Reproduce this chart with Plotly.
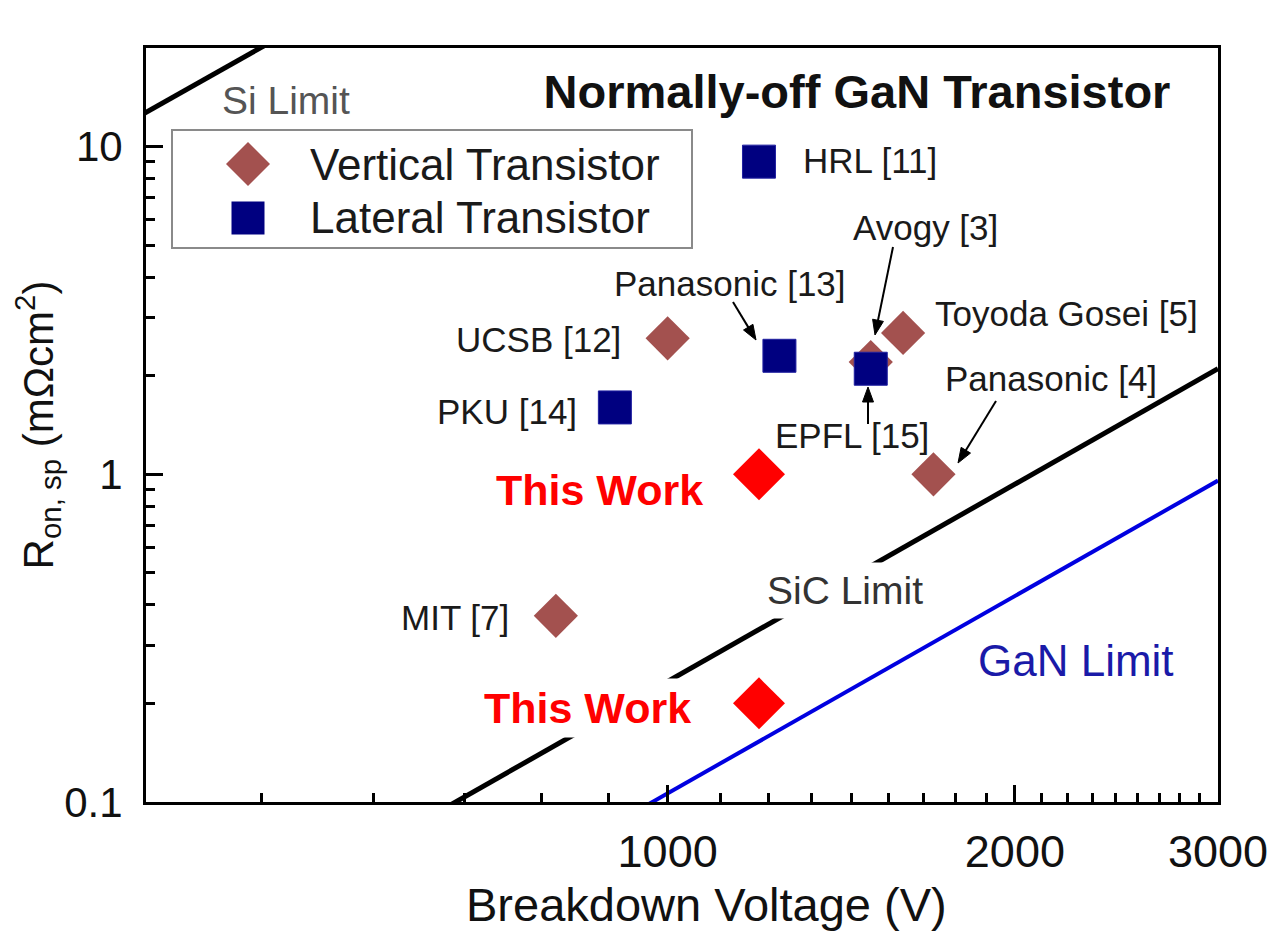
import math
import plotly.graph_objects as go

# ---------------- data ----------------
vert_names = ["UCSB [12]", "Avogy [3]", "Toyoda Gosei [5]", "Panasonic [4]", "MIT [7]"]
vert_v = [1000, 1500, 1600, 1700, 800]
vert_r = [2.6, 2.2, 2.7, 1.0, 0.37]

lat_names = ["HRL [11]", "Panasonic [13]", "EPFL [15]", "PKU [14]"]
lat_v = [1200, 1250, 1500, 900]
lat_r = [9.0, 2.3, 2.1, 1.6]

this_v = [1200, 1200]
this_r = [1.0, 0.2]

si_v = [350, 450]
si_r = [12.5, 20.6]
sic_v = [640, 3000]
sic_r = [0.0955, 2.1]
gan_v = [950, 3000]
gan_r = [0.0959, 0.957]

x_tickvals = [1000, 2000, 3000]
x_ticktext = ["1000", "2000", "3000"]
y_tickvals = [0.1, 1, 10]
y_ticktext = ["0.1", "1", "10"]

# ---------------- styling / layout ----------------
FONT = "Liberation Sans, Arial, sans-serif"
BROWN = "#A3514F"
NAVY = "#000080"
RED = "#FF0000"
BLUE = "#0000E0"
TXT = "#1a1a1a"

W, H = 1280, 952
OFF = 8  # page body margin in the browser
# plot-area edges in screen pixels
L, R, T, B = 146, 1218, 48, 802


def px(x):
    return (x - L) / (R - L)


def py(y):
    return (B - y) / (B - T)


x_minor = [k * 1000 / 9 for k in range(4, 27) if k % 9 != 0]
y_minor = [m * 0.1 for m in range(2, 10)] + [float(m) for m in range(2, 10)]

fig = go.Figure()

fig.add_trace(go.Scatter(x=si_v, y=si_r, mode="lines", line=dict(color="black", width=5),
                         name="Si Limit", hoverinfo="skip"))
fig.add_trace(go.Scatter(x=sic_v, y=sic_r, mode="lines", line=dict(color="black", width=5),
                         name="SiC Limit", hoverinfo="skip"))
fig.add_trace(go.Scatter(x=gan_v, y=gan_r, mode="lines", line=dict(color=BLUE, width=4),
                         name="GaN Limit", hoverinfo="skip"))

fig.add_trace(go.Scatter(x=vert_v, y=vert_r, mode="markers", text=vert_names,
                         name="Vertical Transistor",
                         marker=dict(symbol="diamond", size=34, color=BROWN, line=dict(width=0))))
fig.add_trace(go.Scatter(x=lat_v, y=lat_r, mode="markers", text=lat_names,
                         name="Lateral Transistor",
                         marker=dict(symbol="square", size=33, color=NAVY,
                                     line=dict(width=1, color="#2020a0"))))
fig.add_trace(go.Scatter(x=this_v, y=this_r, mode="markers", name="This Work",
                         marker=dict(symbol="diamond", size=40, color=RED, line=dict(width=0))))

annotations = []
shapes = []


def label(text, cx, cy, size=35, color=TXT, bold=False, bg=None, pad=0, xanchor="center"):
    t = f"<b>{text}</b>" if bold else text
    d = dict(text=t, x=px(cx), y=py(cy), xref="paper", yref="paper", showarrow=False,
             xanchor=xanchor, yanchor="middle", font=dict(family=FONT, size=size, color=color))
    if bg:
        d.update(bgcolor=bg, borderpad=pad)
    annotations.append(d)


def arrow(tx, ty, hx, hy, head_len=15, head_half=5.5):
    """Arrow from tail (tx,ty) to head (hx,hy), screen pixels, drawn as shapes."""
    dx, dy = hx - tx, hy - ty
    n = math.hypot(dx, dy)
    ux, uy = dx / n, dy / n
    bx, by = hx - ux * head_len, hy - uy * head_len
    pxn, pyn = -uy, ux
    shapes.append(dict(type="line", xref="paper", yref="paper",
                       x0=px(tx), y0=py(ty), x1=px(bx + ux * 2), y1=py(by + uy * 2),
                       line=dict(color="black", width=2), layer="above"))
    p1 = (bx + pxn * head_half, by + pyn * head_half)
    p2 = (bx - pxn * head_half, by - pyn * head_half)
    path = (f"M {px(hx)},{py(hy)} L {px(p1[0])},{py(p1[1])} "
            f"L {px(p2[0])},{py(p2[1])} Z")
    shapes.append(dict(type="path", xref="paper", yref="paper", path=path,
                       fillcolor="black", line=dict(color="black", width=1), layer="above"))


def key_symbol(kind, cx, cy, color, half):
    if kind == "diamond":
        path = (f"M {px(cx)},{py(cy - half)} L {px(cx + half)},{py(cy)} "
                f"L {px(cx)},{py(cy + half)} L {px(cx - half)},{py(cy)} Z")
        shapes.append(dict(type="path", xref="paper", yref="paper", path=path,
                           fillcolor=color, line=dict(width=0), layer="above"))
    else:
        shapes.append(dict(type="rect", xref="paper", yref="paper",
                           x0=px(cx - half), x1=px(cx + half), y0=py(cy + half), y1=py(cy - half),
                           fillcolor=color, line=dict(width=0), layer="above"))


# limit labels
label("Si Limit", 286, 100, size=39, color="#555555")
label("SiC Limit", 845, 590, size=39, color="#333333", bg="white", pad=6)
label("GaN Limit", 1076, 660, size=44, color="#1a1aa8")

# point labels
vert_label_pos = [(538, 339), (925, 227), (1066, 313), (1051, 378), (455, 617)]
lat_label_pos = [(870, 160), (730, 283), (852, 435), (507, 411)]
for name, (cx, cy) in zip(vert_names, vert_label_pos):
    label(name, cx, cy)
for name, (cx, cy) in zip(lat_names, lat_label_pos):
    label(name, cx, cy)
label("This Work", 599, 490, size=43, color=RED, bold=True)
label("This Work", 587, 708, size=43, color=RED, bold=True, bg="white", pad=5)

# arrows (tail -> head)
arrow(733, 302, 756, 340)   # Panasonic [13]
arrow(893, 247, 875, 335)   # Avogy [3]
arrow(868, 424, 868, 387)   # EPFL [15]
arrow(996, 401, 958, 463)   # Panasonic [4]

# legend (box, symbols, texts)
shapes.append(dict(type="rect", xref="paper", yref="paper", x0=px(172), x1=px(692),
                   y0=py(248), y1=py(130), line=dict(color="#8a8a8a", width=2), layer="below"))
key_symbol("diamond", 248, 164, BROWN, 22)
key_symbol("square", 248, 218, NAVY, 16.5)
label("Vertical Transistor", 308, 164, size=44, color=TXT, xanchor="left")
label("Lateral Transistor", 308, 218, size=44, color=TXT, xanchor="left")

# x axis title (placed to match the reference's offset)
label("Breakdown Voltage (V)", 706, 904, size=47, color="#111")

axis_common = dict(showline=True, linecolor="black", linewidth=3, mirror=True,
                   ticks="inside", ticklen=17, tickwidth=3, tickcolor="black",
                   showgrid=False, zeroline=False)

fig.update_layout(
    width=W, height=H,
    margin=dict(l=L - OFF, r=W - (R - OFF), t=T - OFF, b=H - (B - OFF)),
    plot_bgcolor="white", paper_bgcolor="white",
    showlegend=False,
    font=dict(family=FONT, color=TXT),
    title=dict(text="<b>Normally-off GaN Transistor</b>", xref="paper", yref="paper",
               x=px(857), y=py(92), xanchor="center", yanchor="middle",
               font=dict(family=FONT, size=47, color="#111")),
    xaxis=dict(type="log", range=[math.log10(353), math.log10(3000)],
               tickmode="array", tickvals=x_tickvals, ticktext=x_ticktext,
               tickfont=dict(size=45, color="#111"), ticklabelstandoff=8,
               minor=dict(tickmode="array", tickvals=x_minor, ticks="inside", ticklen=9,
                          tickwidth=2.5, tickcolor="black", showgrid=False),
               **axis_common),
    yaxis=dict(type="log", range=[-1, math.log10(20)],
               tickmode="array", tickvals=y_tickvals, ticktext=y_ticktext,
               tickfont=dict(size=42, color="#111"), ticklabelstandoff=12,
               minor=dict(tickmode="array", tickvals=y_minor, ticks="inside", ticklen=9,
                          tickwidth=2.5, tickcolor="black", showgrid=False),
               title=dict(text="R<sub>on, sp</sub> (mΩcm<sup>2</sup>)", font=dict(size=42, color="#111"),
                          standoff=0),
               **axis_common),
    annotations=annotations,
    shapes=shapes,
)

fig.write_html("out.html")
